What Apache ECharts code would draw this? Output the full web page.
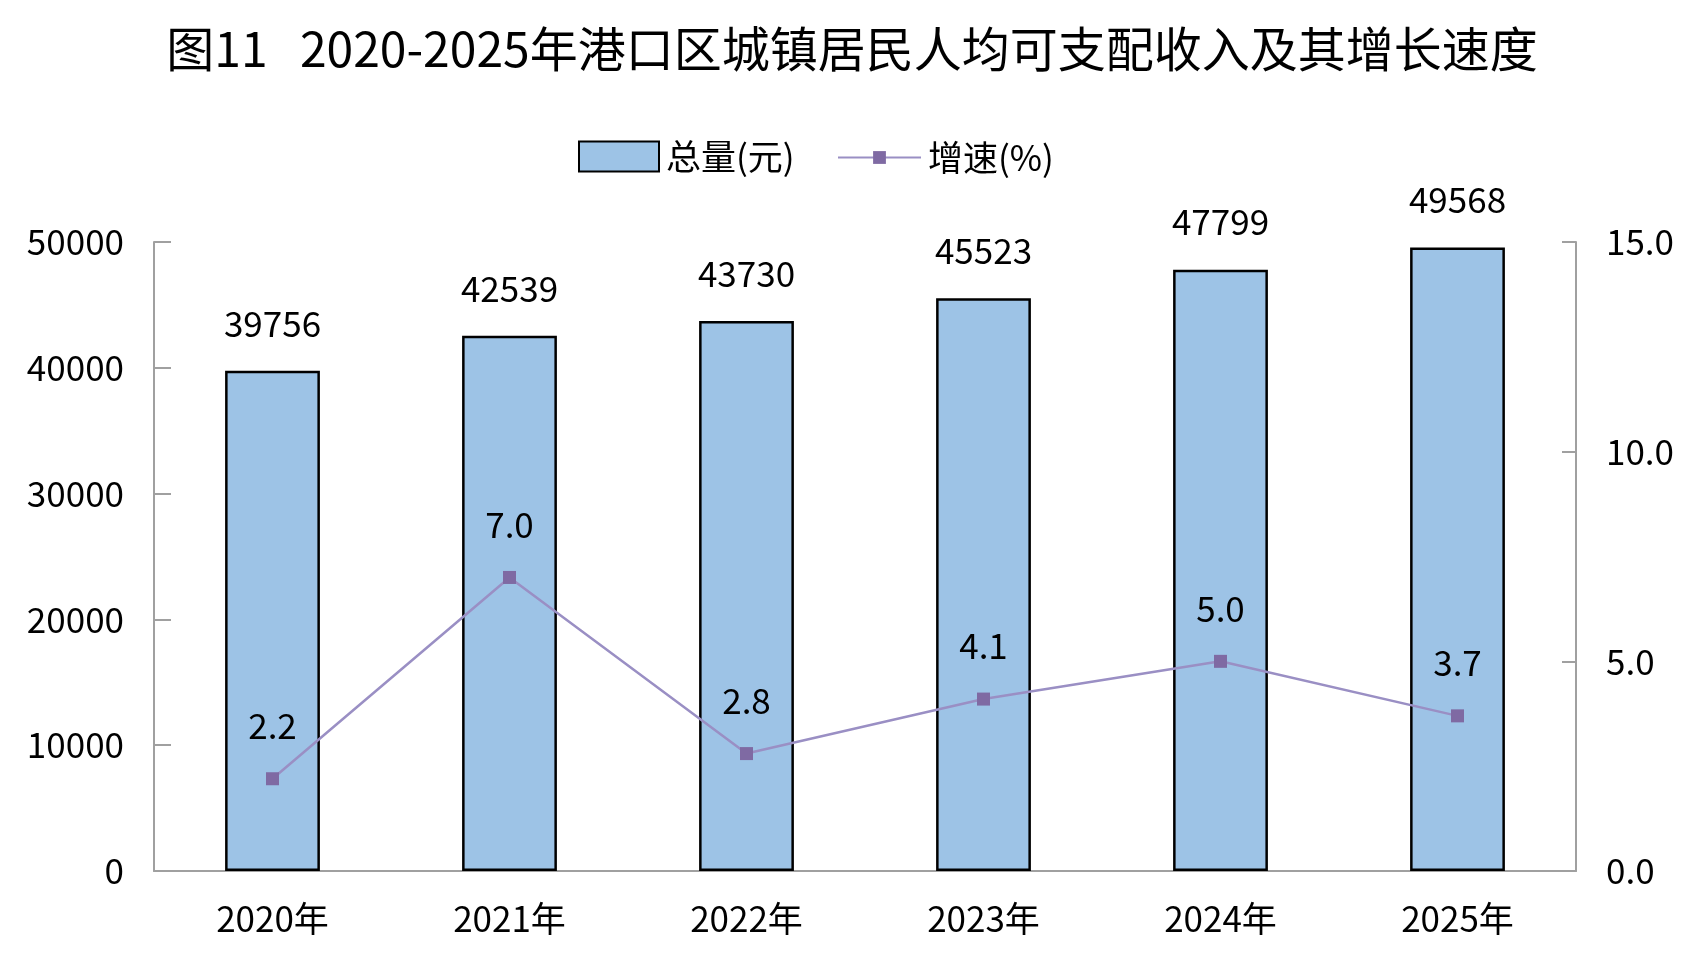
<!DOCTYPE html>
<html>
<head>
<meta charset="utf-8">
<script src="https://cdn.jsdelivr.net/npm/echarts@6/dist/echarts.min.js"></script>
<style>
html,body{margin:0;padding:0;background:#fff;}
#c{width:1704px;height:954px;}
</style>
</head>
<body>
<div id="c"></div>
<script>
const categories = ['2020年','2021年','2022年','2023年','2024年','2025年'];
const totalValues = [39756, 42539, 43730, 45523, 47799, 49568];
const growthValues = [2.2, 7.0, 2.8, 4.1, 5.0, 3.7];
const titleText = '图11   2020-2025年港口区城镇居民人均可支配收入及其增长速度';
const barName = '总量(元)';
const lineName = '增速(%)';

const FONT = '"Noto Sans CJK SC", "Noto Sans", sans-serif';
const chart = echarts.init(document.getElementById('c'));
chart.setOption({
  backgroundColor: '#fff',
  animation: false,
  title: {
    text: titleText,
    left: 'center',
    top: 20,
    textStyle: { fontFamily: FONT, fontSize: 48, fontWeight: 'normal', color: '#000' }
  },
  legend: [
    {
      data: [{ name: barName, icon: 'rect' }],
      left: 573, top: 134,
      itemWidth: 80, itemHeight: 30, itemGap: 20,
      textStyle: { fontFamily: FONT, fontSize: 35, color: '#000', padding: [0,0,0,2] }
    },
    {
      data: [lineName],
      left: 832, top: 135,
      itemWidth: 83, itemHeight: 16,
      textStyle: { fontFamily: FONT, fontSize: 35, color: '#000', padding: [0,0,0,2] }
    }
  ],
  grid: { left: 154, right: 128, top: 242, bottom: 83, containLabel: false },
  xAxis: {
    type: 'category',
    data: categories,
    axisLine: { lineStyle: { color: '#a0a0a0', width: 2 } },
    axisTick: { inside: true, length: 17, lineStyle: { color: '#a0a0a0', width: 2 } },
    axisLabel: { margin: 30, fontFamily: FONT, fontSize: 35, color: '#000' }
  },
  yAxis: [
    {
      type: 'value', min: 0, max: 50000, interval: 10000,
      splitLine: { show: false },
      axisLine: { show: true, lineStyle: { color: '#a0a0a0', width: 2 } },
      axisTick: { show: true, inside: true, length: 17, lineStyle: { color: '#a0a0a0', width: 2 } },
      axisLabel: { margin: 30, fontFamily: FONT, fontSize: 35, color: '#000',
        formatter: v => String(v) }
    },
    {
      type: 'value', min: 0, max: 15, interval: 5,
      splitLine: { show: false },
      axisLine: { show: true, lineStyle: { color: '#a0a0a0', width: 2 } },
      axisTick: { show: true, inside: true, length: 14, lineStyle: { color: '#a0a0a0', width: 2 } },
      axisLabel: { margin: 30, fontFamily: FONT, fontSize: 35, color: '#000',
        formatter: v => v.toFixed(1) }
    }
  ],
  series: [
    {
      name: barName,
      type: 'bar',
      data: totalValues,
      barWidth: '40%',
      itemStyle: { color: '#9dc3e6', borderColor: '#000', borderWidth: 2.5 },
      label: { show: true, position: 'top', distance: 30, fontFamily: FONT, fontSize: 35, color: '#000' }
    },
    {
      name: lineName,
      type: 'line',
      yAxisIndex: 1,
      data: growthValues,
      symbol: 'rect',
      symbolSize: 13,
      lineStyle: { color: '#9a8fc4', width: 2.5 },
      itemStyle: { color: '#7f6aa3' },
      label: { show: true, position: 'top', distance: 29, fontFamily: FONT, fontSize: 35, color: '#000',
        formatter: p => p.value.toFixed(1) }
    }
  ]
});
</script>
</body>
</html>
